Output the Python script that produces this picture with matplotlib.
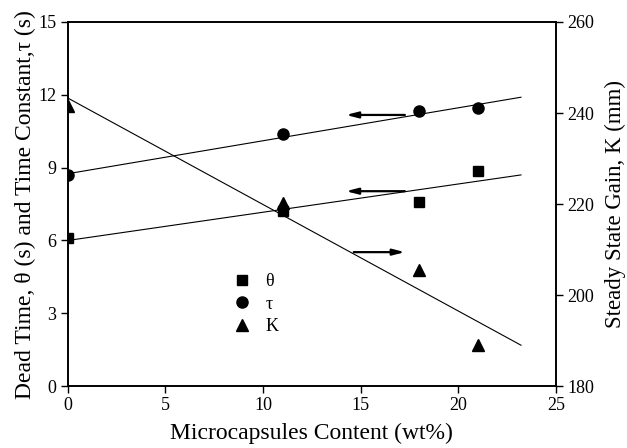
import numpy as np
import matplotlib
matplotlib.use("Agg")
from matplotlib import pyplot as plt

plt.rcParams["font.family"] = ["Liberation Serif", "DejaVu Serif"]

# measured points
content = [0, 11, 18, 21]
theta = [6.1, 7.2, 7.6, 8.85]
tau = [8.7, 10.4, 11.35, 11.45]
gain = [241.5, 220.2, 205.5, 189.0]

# fitted lines (end points)
fit_x = [0, 23.2]
theta_fit = [6.0, 8.7]
tau_fit = [8.75, 11.9]
gain_fit = [243.3, 189.0]

fig = plt.figure(figsize=(6.27, 4.48), dpi=100)
ax = fig.add_axes([0.108, 0.138, 0.779, 0.813])
ax2 = ax.twinx()

ax.plot(content, theta, "s", color="black", ms=7, label="\u03b8")
ax.plot(content, tau, "o", color="black", ms=8, label="\u03c4")
ax.plot([], [], "^", color="black", ms=8, label="K")
ax.plot(fit_x, theta_fit, "-", color="black", lw=0.8)
ax.plot(fit_x, tau_fit, "-", color="black", lw=0.8)

ax2.plot(content, gain, "^", color="black", ms=9)
ax2.plot(fit_x, gain_fit, "-", color="black", lw=0.8)

ax.set_xlim(0, 25)
ax.set_ylim(0, 15)
ax2.set_ylim(180, 260)
ax.set_xticks([0, 5, 10, 15, 20, 25])
ax.set_yticks([0, 3, 6, 9, 12, 15])
ax2.set_yticks([180, 200, 220, 240, 260])

# arrows pointing at the axis each line belongs to
arr = dict(arrowstyle="-|>,head_length=0.7,head_width=0.18", color="black", lw=1.6)
ax.annotate("", xy=(14.1, 11.17), xytext=(17.4, 11.17), arrowprops=arr)
ax.annotate("", xy=(14.1, 8.03), xytext=(17.4, 8.03), arrowprops=arr)
ax.annotate("", xy=(17.4, 5.52), xytext=(14.5, 5.52), arrowprops=arr)

for a in (ax, ax2):
    a.tick_params(direction="out", length=5, width=1, labelsize=13, pad=3)
    for s in a.spines.values():
        s.set_linewidth(1.2)
ax.tick_params(top=False, right=False)

ax.set_xlabel("Microcapsules Content (wt%)", fontsize=17, labelpad=6)
ax.set_ylabel("Dead Time, \u03b8 (s) and Time Constant,\u03c4 (s)", fontsize=17, labelpad=2)
ax2.set_ylabel("Steady State Gain, K (mm)", fontsize=16.5, labelpad=8)

ax.legend(loc="upper left", bbox_to_anchor=(0.305, 0.355), frameon=False,
          fontsize=13, handletextpad=0.8, labelspacing=0.3, handlelength=1.0)

fig.savefig("out.png", dpi=100)
